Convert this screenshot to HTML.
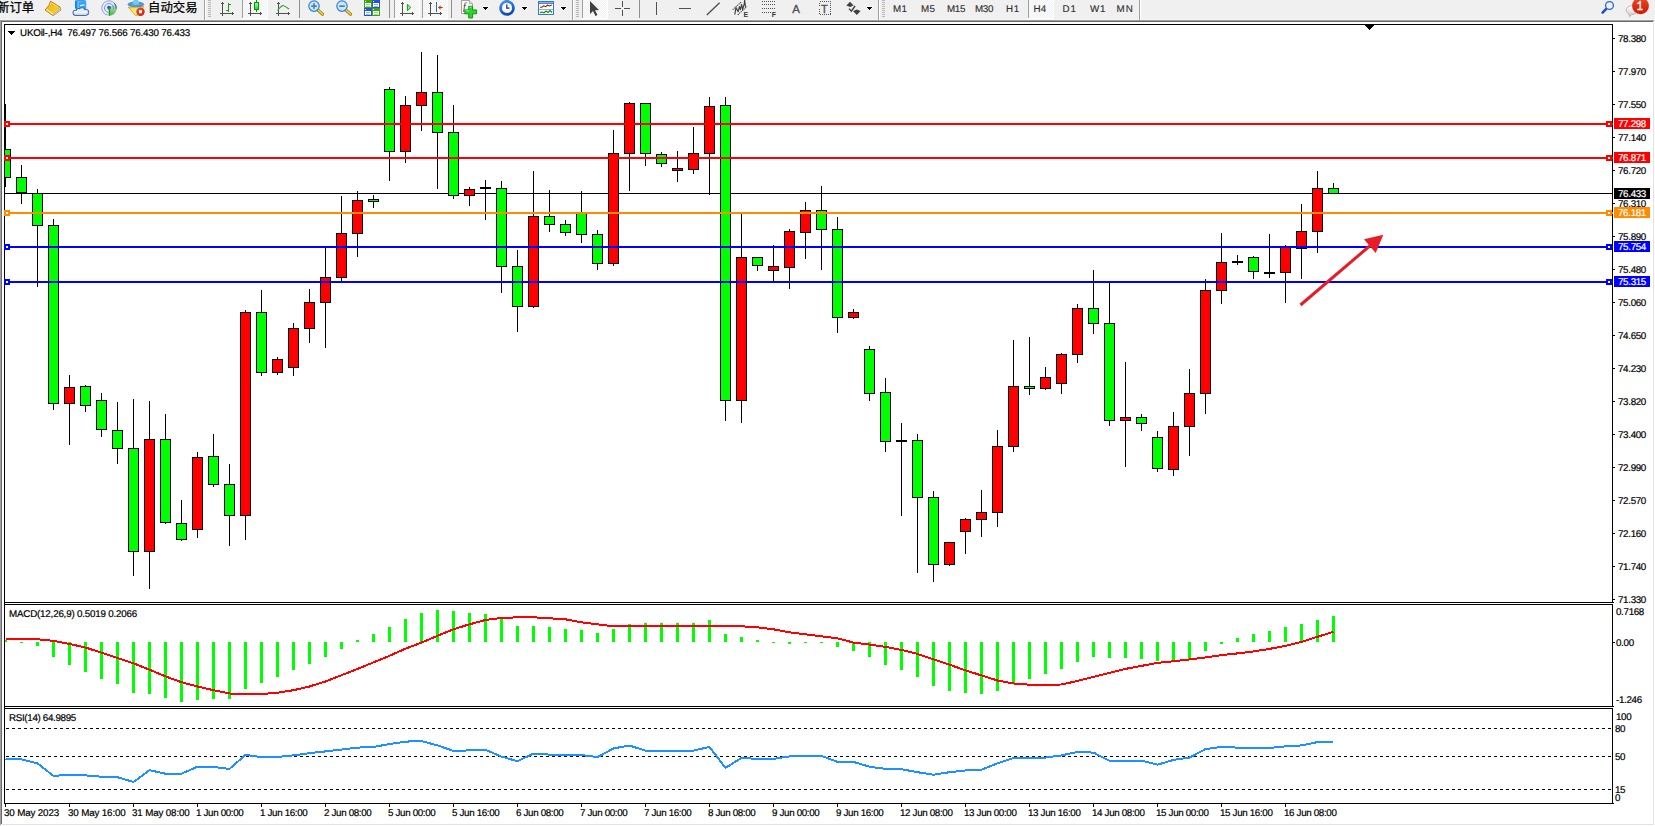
<!DOCTYPE html>
<html><head><meta charset="utf-8"><title>UKOil H4</title>
<style>
html,body{margin:0;padding:0;background:#fff;}
body{width:1655px;height:826px;position:relative;overflow:hidden;font-family:"Liberation Sans","Noto Sans CJK SC",sans-serif;}
#tb{position:absolute;left:0;top:0;width:1655px;height:20px;background:#f0f0f0;overflow:hidden;}
#chart{position:absolute;left:0;top:0;}
.ax{position:absolute;text-rendering:geometricPrecision;-webkit-text-stroke:0.2px #000;font-size:9.8px;line-height:12px;height:12px;color:#000;white-space:nowrap;letter-spacing:-0.33px;}
.tl{letter-spacing:-0.15px;}
.tj{letter-spacing:-0.34px;}
.lb{letter-spacing:-0.2px;}
.pb{position:absolute;text-rendering:geometricPrecision;-webkit-text-stroke:0.2px #fff;left:1614px;width:36px;height:11px;color:#fff;font-size:9.8px;line-height:13px;white-space:nowrap;box-sizing:border-box;padding-left:4px;letter-spacing:-0.33px;}
</style></head>
<body>
<svg id="chart" width="1655" height="826" viewBox="0 0 1655 826" shape-rendering="crispEdges">
<rect x="0" y="19" width="1655" height="1" fill="#f5f5f5"/>
<rect x="0" y="20" width="1654" height="1" fill="#a0a0a0"/><rect x="1654" y="20" width="1" height="2" fill="#f0f0f0"/>
<rect x="0" y="21" width="1653" height="1" fill="#696969"/>
<rect x="0" y="20" width="1" height="805" fill="#a0a0a0"/>
<rect x="1" y="21" width="1" height="803" fill="#696969"/>
<rect x="1653" y="21" width="1" height="804" fill="#e3e3e3"/>
<rect x="2" y="824" width="1652" height="1" fill="#e3e3e3"/>
<rect x="4" y="24" width="1609" height="1" fill="#000"/><rect x="4" y="24" width="1" height="780" fill="#000"/><rect x="1612" y="24" width="1" height="780" fill="#000"/><rect x="4" y="803" width="1610" height="1" fill="#000"/><rect x="4" y="602" width="1610" height="1" fill="#000"/><rect x="4" y="604" width="1609" height="1" fill="#000"/><rect x="4" y="706" width="1610" height="1" fill="#000"/><rect x="4" y="708" width="1609" height="1" fill="#000"/><rect x="5" y="603" width="1611" height="1" fill="#fff"/><rect x="5" y="707" width="1611" height="1" fill="#fff"/>
<rect x="5" y="193" width="1607" height="1" fill="#000"/>
<rect x="5" y="104" width="1" height="83" fill="#000"/><rect x="5" y="149" width="6" height="29" fill="#000"/><rect x="5" y="150" width="5" height="27" fill="#00ff00"/><rect x="21" y="165" width="1" height="39" fill="#000"/><rect x="16" y="177" width="11" height="16" fill="#000"/><rect x="17" y="178" width="9" height="14" fill="#00ff00"/><rect x="37" y="189" width="1" height="98" fill="#000"/><rect x="32" y="193" width="11" height="33" fill="#000"/><rect x="33" y="194" width="9" height="31" fill="#00ff00"/><rect x="53" y="219" width="1" height="191" fill="#000"/><rect x="48" y="225" width="11" height="179" fill="#000"/><rect x="49" y="226" width="9" height="177" fill="#00ff00"/><rect x="69" y="375" width="1" height="70" fill="#000"/><rect x="64" y="387" width="11" height="17" fill="#000"/><rect x="65" y="388" width="9" height="15" fill="#ff0000"/><rect x="85" y="385" width="1" height="27" fill="#000"/><rect x="80" y="386" width="11" height="20" fill="#000"/><rect x="81" y="387" width="9" height="18" fill="#00ff00"/><rect x="101" y="393" width="1" height="44" fill="#000"/><rect x="96" y="400" width="11" height="30" fill="#000"/><rect x="97" y="401" width="9" height="28" fill="#00ff00"/><rect x="117" y="402" width="1" height="62" fill="#000"/><rect x="112" y="430" width="11" height="19" fill="#000"/><rect x="113" y="431" width="9" height="17" fill="#00ff00"/><rect x="133" y="399" width="1" height="177" fill="#000"/><rect x="128" y="448" width="11" height="104" fill="#000"/><rect x="129" y="449" width="9" height="102" fill="#00ff00"/><rect x="149" y="401" width="1" height="188" fill="#000"/><rect x="144" y="439" width="11" height="113" fill="#000"/><rect x="145" y="440" width="9" height="111" fill="#ff0000"/><rect x="165" y="414" width="1" height="110" fill="#000"/><rect x="160" y="439" width="11" height="84" fill="#000"/><rect x="161" y="440" width="9" height="82" fill="#00ff00"/><rect x="181" y="500" width="1" height="41" fill="#000"/><rect x="176" y="523" width="11" height="17" fill="#000"/><rect x="177" y="524" width="9" height="15" fill="#00ff00"/><rect x="197" y="452" width="1" height="86" fill="#000"/><rect x="192" y="457" width="11" height="73" fill="#000"/><rect x="193" y="458" width="9" height="71" fill="#ff0000"/><rect x="213" y="434" width="1" height="53" fill="#000"/><rect x="208" y="456" width="11" height="29" fill="#000"/><rect x="209" y="457" width="9" height="27" fill="#00ff00"/><rect x="229" y="464" width="1" height="82" fill="#000"/><rect x="224" y="484" width="11" height="32" fill="#000"/><rect x="225" y="485" width="9" height="30" fill="#00ff00"/><rect x="245" y="310" width="1" height="230" fill="#000"/><rect x="240" y="312" width="11" height="204" fill="#000"/><rect x="241" y="313" width="9" height="202" fill="#ff0000"/><rect x="261" y="290" width="1" height="86" fill="#000"/><rect x="256" y="312" width="11" height="61" fill="#000"/><rect x="257" y="313" width="9" height="59" fill="#00ff00"/><rect x="277" y="357" width="1" height="18" fill="#000"/><rect x="272" y="359" width="11" height="14" fill="#000"/><rect x="273" y="360" width="9" height="12" fill="#ff0000"/><rect x="293" y="323" width="1" height="53" fill="#000"/><rect x="288" y="328" width="11" height="40" fill="#000"/><rect x="289" y="329" width="9" height="38" fill="#ff0000"/><rect x="309" y="289" width="1" height="54" fill="#000"/><rect x="304" y="302" width="11" height="27" fill="#000"/><rect x="305" y="303" width="9" height="25" fill="#ff0000"/><rect x="325" y="247" width="1" height="101" fill="#000"/><rect x="320" y="277" width="11" height="26" fill="#000"/><rect x="321" y="278" width="9" height="24" fill="#ff0000"/><rect x="341" y="196" width="1" height="85" fill="#000"/><rect x="336" y="233" width="11" height="45" fill="#000"/><rect x="337" y="234" width="9" height="43" fill="#ff0000"/><rect x="357" y="191" width="1" height="66" fill="#000"/><rect x="352" y="200" width="11" height="34" fill="#000"/><rect x="353" y="201" width="9" height="32" fill="#ff0000"/><rect x="373" y="195" width="1" height="13" fill="#000"/><rect x="368" y="199" width="11" height="3" fill="#000"/><rect x="369" y="200" width="9" height="1" fill="#00ff00"/><rect x="389" y="87" width="1" height="94" fill="#000"/><rect x="384" y="89" width="11" height="63" fill="#000"/><rect x="385" y="90" width="9" height="61" fill="#00ff00"/><rect x="405" y="96" width="1" height="67" fill="#000"/><rect x="400" y="105" width="11" height="47" fill="#000"/><rect x="401" y="106" width="9" height="45" fill="#ff0000"/><rect x="421" y="52" width="1" height="79" fill="#000"/><rect x="416" y="92" width="11" height="14" fill="#000"/><rect x="417" y="93" width="9" height="12" fill="#ff0000"/><rect x="437" y="55" width="1" height="134" fill="#000"/><rect x="432" y="92" width="11" height="41" fill="#000"/><rect x="433" y="93" width="9" height="39" fill="#00ff00"/><rect x="453" y="105" width="1" height="94" fill="#000"/><rect x="448" y="132" width="11" height="64" fill="#000"/><rect x="449" y="133" width="9" height="62" fill="#00ff00"/><rect x="469" y="187" width="1" height="19" fill="#000"/><rect x="464" y="189" width="11" height="7" fill="#000"/><rect x="465" y="190" width="9" height="5" fill="#ff0000"/><rect x="485" y="180" width="1" height="40" fill="#000"/><rect x="480" y="187" width="11" height="2" fill="#000"/><rect x="501" y="181" width="1" height="112" fill="#000"/><rect x="496" y="188" width="11" height="79" fill="#000"/><rect x="497" y="189" width="9" height="77" fill="#00ff00"/><rect x="517" y="250" width="1" height="82" fill="#000"/><rect x="512" y="266" width="11" height="41" fill="#000"/><rect x="513" y="267" width="9" height="39" fill="#00ff00"/><rect x="533" y="171" width="1" height="137" fill="#000"/><rect x="528" y="216" width="11" height="91" fill="#000"/><rect x="529" y="217" width="9" height="89" fill="#ff0000"/><rect x="549" y="190" width="1" height="42" fill="#000"/><rect x="544" y="216" width="11" height="9" fill="#000"/><rect x="545" y="217" width="9" height="7" fill="#00ff00"/><rect x="565" y="220" width="1" height="16" fill="#000"/><rect x="560" y="224" width="11" height="9" fill="#000"/><rect x="561" y="225" width="9" height="7" fill="#00ff00"/><rect x="581" y="191" width="1" height="52" fill="#000"/><rect x="576" y="213" width="11" height="22" fill="#000"/><rect x="577" y="214" width="9" height="20" fill="#00ff00"/><rect x="597" y="230" width="1" height="40" fill="#000"/><rect x="592" y="234" width="11" height="30" fill="#000"/><rect x="593" y="235" width="9" height="28" fill="#00ff00"/><rect x="613" y="130" width="1" height="136" fill="#000"/><rect x="608" y="153" width="11" height="111" fill="#000"/><rect x="609" y="154" width="9" height="109" fill="#ff0000"/><rect x="629" y="102" width="1" height="89" fill="#000"/><rect x="624" y="103" width="11" height="51" fill="#000"/><rect x="625" y="104" width="9" height="49" fill="#ff0000"/><rect x="645" y="103" width="1" height="63" fill="#000"/><rect x="640" y="103" width="11" height="51" fill="#000"/><rect x="641" y="104" width="9" height="49" fill="#00ff00"/><rect x="661" y="152" width="1" height="15" fill="#000"/><rect x="656" y="154" width="11" height="10" fill="#000"/><rect x="657" y="155" width="9" height="8" fill="#00ff00"/><rect x="677" y="151" width="1" height="31" fill="#000"/><rect x="672" y="168" width="11" height="3" fill="#000"/><rect x="673" y="169" width="9" height="1" fill="#ff0000"/><rect x="693" y="127" width="1" height="47" fill="#000"/><rect x="688" y="153" width="11" height="17" fill="#000"/><rect x="689" y="154" width="9" height="15" fill="#ff0000"/><rect x="709" y="97" width="1" height="98" fill="#000"/><rect x="704" y="106" width="11" height="48" fill="#000"/><rect x="705" y="107" width="9" height="46" fill="#ff0000"/><rect x="725" y="97" width="1" height="324" fill="#000"/><rect x="720" y="105" width="11" height="296" fill="#000"/><rect x="721" y="106" width="9" height="294" fill="#00ff00"/><rect x="741" y="214" width="1" height="209" fill="#000"/><rect x="736" y="257" width="11" height="144" fill="#000"/><rect x="737" y="258" width="9" height="142" fill="#ff0000"/><rect x="757" y="257" width="1" height="14" fill="#000"/><rect x="752" y="257" width="11" height="9" fill="#000"/><rect x="753" y="258" width="9" height="7" fill="#00ff00"/><rect x="773" y="245" width="1" height="37" fill="#000"/><rect x="768" y="266" width="11" height="5" fill="#000"/><rect x="769" y="267" width="9" height="3" fill="#ff0000"/><rect x="789" y="229" width="1" height="60" fill="#000"/><rect x="784" y="231" width="11" height="37" fill="#000"/><rect x="785" y="232" width="9" height="35" fill="#ff0000"/><rect x="805" y="202" width="1" height="57" fill="#000"/><rect x="800" y="210" width="11" height="23" fill="#000"/><rect x="801" y="211" width="9" height="21" fill="#ff0000"/><rect x="821" y="186" width="1" height="84" fill="#000"/><rect x="816" y="210" width="11" height="20" fill="#000"/><rect x="817" y="211" width="9" height="18" fill="#00ff00"/><rect x="837" y="217" width="1" height="116" fill="#000"/><rect x="832" y="229" width="11" height="89" fill="#000"/><rect x="833" y="230" width="9" height="87" fill="#00ff00"/><rect x="853" y="309" width="1" height="10" fill="#000"/><rect x="848" y="312" width="11" height="6" fill="#000"/><rect x="849" y="313" width="9" height="4" fill="#ff0000"/><rect x="869" y="346" width="1" height="55" fill="#000"/><rect x="864" y="349" width="11" height="45" fill="#000"/><rect x="865" y="350" width="9" height="43" fill="#00ff00"/><rect x="885" y="378" width="1" height="74" fill="#000"/><rect x="880" y="392" width="11" height="50" fill="#000"/><rect x="881" y="393" width="9" height="48" fill="#00ff00"/><rect x="901" y="423" width="1" height="93" fill="#000"/><rect x="896" y="440" width="11" height="2" fill="#000"/><rect x="917" y="434" width="1" height="139" fill="#000"/><rect x="912" y="440" width="11" height="58" fill="#000"/><rect x="913" y="441" width="9" height="56" fill="#00ff00"/><rect x="933" y="491" width="1" height="91" fill="#000"/><rect x="928" y="497" width="11" height="68" fill="#000"/><rect x="929" y="498" width="9" height="66" fill="#00ff00"/><rect x="949" y="542" width="1" height="24" fill="#000"/><rect x="944" y="542" width="11" height="23" fill="#000"/><rect x="945" y="543" width="9" height="21" fill="#ff0000"/><rect x="965" y="518" width="1" height="36" fill="#000"/><rect x="960" y="519" width="11" height="13" fill="#000"/><rect x="961" y="520" width="9" height="11" fill="#ff0000"/><rect x="981" y="490" width="1" height="47" fill="#000"/><rect x="976" y="512" width="11" height="8" fill="#000"/><rect x="977" y="513" width="9" height="6" fill="#ff0000"/><rect x="997" y="430" width="1" height="97" fill="#000"/><rect x="992" y="446" width="11" height="67" fill="#000"/><rect x="993" y="447" width="9" height="65" fill="#ff0000"/><rect x="1013" y="340" width="1" height="112" fill="#000"/><rect x="1008" y="386" width="11" height="61" fill="#000"/><rect x="1009" y="387" width="9" height="59" fill="#ff0000"/><rect x="1029" y="337" width="1" height="58" fill="#000"/><rect x="1024" y="386" width="11" height="3" fill="#000"/><rect x="1025" y="387" width="9" height="1" fill="#00ff00"/><rect x="1045" y="367" width="1" height="23" fill="#000"/><rect x="1040" y="377" width="11" height="12" fill="#000"/><rect x="1041" y="378" width="9" height="10" fill="#ff0000"/><rect x="1061" y="353" width="1" height="41" fill="#000"/><rect x="1056" y="354" width="11" height="30" fill="#000"/><rect x="1057" y="355" width="9" height="28" fill="#ff0000"/><rect x="1077" y="304" width="1" height="59" fill="#000"/><rect x="1072" y="308" width="11" height="47" fill="#000"/><rect x="1073" y="309" width="9" height="45" fill="#ff0000"/><rect x="1093" y="270" width="1" height="64" fill="#000"/><rect x="1088" y="308" width="11" height="16" fill="#000"/><rect x="1089" y="309" width="9" height="14" fill="#00ff00"/><rect x="1109" y="282" width="1" height="144" fill="#000"/><rect x="1104" y="323" width="11" height="98" fill="#000"/><rect x="1105" y="324" width="9" height="96" fill="#00ff00"/><rect x="1125" y="362" width="1" height="105" fill="#000"/><rect x="1120" y="417" width="11" height="4" fill="#000"/><rect x="1121" y="418" width="9" height="2" fill="#ff0000"/><rect x="1141" y="414" width="1" height="17" fill="#000"/><rect x="1136" y="417" width="11" height="7" fill="#000"/><rect x="1137" y="418" width="9" height="5" fill="#00ff00"/><rect x="1157" y="431" width="1" height="41" fill="#000"/><rect x="1152" y="437" width="11" height="32" fill="#000"/><rect x="1153" y="438" width="9" height="30" fill="#00ff00"/><rect x="1173" y="412" width="1" height="64" fill="#000"/><rect x="1168" y="426" width="11" height="44" fill="#000"/><rect x="1169" y="427" width="9" height="42" fill="#ff0000"/><rect x="1189" y="369" width="1" height="87" fill="#000"/><rect x="1184" y="393" width="11" height="34" fill="#000"/><rect x="1185" y="394" width="9" height="32" fill="#ff0000"/><rect x="1205" y="279" width="1" height="135" fill="#000"/><rect x="1200" y="290" width="11" height="104" fill="#000"/><rect x="1201" y="291" width="9" height="102" fill="#ff0000"/><rect x="1221" y="233" width="1" height="71" fill="#000"/><rect x="1216" y="262" width="11" height="29" fill="#000"/><rect x="1217" y="263" width="9" height="27" fill="#ff0000"/><rect x="1237" y="255" width="1" height="10" fill="#000"/><rect x="1232" y="261" width="11" height="2" fill="#000"/><rect x="1253" y="256" width="1" height="23" fill="#000"/><rect x="1248" y="257" width="11" height="15" fill="#000"/><rect x="1249" y="258" width="9" height="13" fill="#00ff00"/><rect x="1269" y="234" width="1" height="44" fill="#000"/><rect x="1264" y="272" width="11" height="2" fill="#000"/><rect x="1285" y="245" width="1" height="58" fill="#000"/><rect x="1280" y="247" width="11" height="26" fill="#000"/><rect x="1281" y="248" width="9" height="24" fill="#ff0000"/><rect x="1301" y="204" width="1" height="75" fill="#000"/><rect x="1296" y="231" width="11" height="18" fill="#000"/><rect x="1297" y="232" width="9" height="16" fill="#ff0000"/><rect x="1317" y="171" width="1" height="82" fill="#000"/><rect x="1312" y="188" width="11" height="44" fill="#000"/><rect x="1313" y="189" width="9" height="42" fill="#ff0000"/><rect x="1333" y="183" width="1" height="11" fill="#000"/><rect x="1328" y="188" width="11" height="6" fill="#000"/><rect x="1329" y="189" width="9" height="4" fill="#00ff00"/>
<rect x="5" y="123" width="1607" height="2" fill="#ff0000"/><rect x="1612" y="123" width="1" height="2" fill="#ff0000"/><rect x="4" y="121" width="6" height="6" fill="#ff0000"/><rect x="6" y="123" width="2" height="2" fill="#fff"/><rect x="1606" y="121" width="6" height="6" fill="#ff0000"/><rect x="1608" y="123" width="2" height="2" fill="#fff"/><rect x="5" y="157" width="1607" height="2" fill="#ff0000"/><rect x="1612" y="157" width="1" height="2" fill="#ff0000"/><rect x="4" y="155" width="6" height="6" fill="#ff0000"/><rect x="6" y="157" width="2" height="2" fill="#fff"/><rect x="1606" y="155" width="6" height="6" fill="#ff0000"/><rect x="1608" y="157" width="2" height="2" fill="#fff"/><rect x="5" y="212" width="1607" height="2" fill="#ff8c00"/><rect x="1612" y="212" width="1" height="2" fill="#ff8c00"/><rect x="4" y="210" width="6" height="6" fill="#ff8c00"/><rect x="6" y="212" width="2" height="2" fill="#fff"/><rect x="1606" y="210" width="6" height="6" fill="#ff8c00"/><rect x="1608" y="212" width="2" height="2" fill="#fff"/><rect x="5" y="246" width="1607" height="2" fill="#0000ff"/><rect x="1612" y="246" width="1" height="2" fill="#0000ff"/><rect x="4" y="244" width="6" height="6" fill="#0000ff"/><rect x="6" y="246" width="2" height="2" fill="#fff"/><rect x="1606" y="244" width="6" height="6" fill="#0000ff"/><rect x="1608" y="246" width="2" height="2" fill="#fff"/><rect x="5" y="281" width="1607" height="2" fill="#0000ff"/><rect x="1612" y="281" width="1" height="2" fill="#0000ff"/><rect x="4" y="279" width="6" height="6" fill="#0000ff"/><rect x="6" y="281" width="2" height="2" fill="#fff"/><rect x="1606" y="279" width="6" height="6" fill="#0000ff"/><rect x="1608" y="281" width="2" height="2" fill="#fff"/>
<g shape-rendering="auto"><line x1="1300.5" y1="305" x2="1372" y2="244" stroke="#e81c26" stroke-width="3"/><polygon points="1383.3,234.8 1364,239.3 1375.7,253" fill="#e81c26"/></g>
<rect x="5" y="640" width="2" height="2" fill="#00ff00"/><rect x="20" y="642" width="3" height="1" fill="#00ff00"/><rect x="36" y="642" width="3" height="4" fill="#00ff00"/><rect x="52" y="642" width="3" height="15" fill="#00ff00"/><rect x="68" y="642" width="3" height="23" fill="#00ff00"/><rect x="84" y="642" width="3" height="30" fill="#00ff00"/><rect x="100" y="642" width="3" height="37" fill="#00ff00"/><rect x="116" y="642" width="3" height="42" fill="#00ff00"/><rect x="132" y="642" width="3" height="51" fill="#00ff00"/><rect x="148" y="642" width="3" height="52" fill="#00ff00"/><rect x="164" y="642" width="3" height="56" fill="#00ff00"/><rect x="180" y="642" width="3" height="60" fill="#00ff00"/><rect x="196" y="642" width="3" height="58" fill="#00ff00"/><rect x="212" y="642" width="3" height="57" fill="#00ff00"/><rect x="228" y="642" width="3" height="57" fill="#00ff00"/><rect x="244" y="642" width="3" height="47" fill="#00ff00"/><rect x="260" y="642" width="3" height="41" fill="#00ff00"/><rect x="276" y="642" width="3" height="35" fill="#00ff00"/><rect x="292" y="642" width="3" height="28" fill="#00ff00"/><rect x="308" y="642" width="3" height="22" fill="#00ff00"/><rect x="324" y="642" width="3" height="15" fill="#00ff00"/><rect x="340" y="642" width="3" height="7" fill="#00ff00"/><rect x="356" y="640" width="3" height="2" fill="#00ff00"/><rect x="372" y="634" width="3" height="8" fill="#00ff00"/><rect x="388" y="627" width="3" height="15" fill="#00ff00"/><rect x="404" y="619" width="3" height="23" fill="#00ff00"/><rect x="420" y="613" width="3" height="29" fill="#00ff00"/><rect x="436" y="610" width="3" height="32" fill="#00ff00"/><rect x="452" y="611" width="3" height="31" fill="#00ff00"/><rect x="468" y="613" width="3" height="29" fill="#00ff00"/><rect x="484" y="614" width="3" height="28" fill="#00ff00"/><rect x="500" y="618" width="3" height="24" fill="#00ff00"/><rect x="516" y="626" width="3" height="16" fill="#00ff00"/><rect x="532" y="626" width="3" height="16" fill="#00ff00"/><rect x="548" y="627" width="3" height="15" fill="#00ff00"/><rect x="564" y="629" width="3" height="13" fill="#00ff00"/><rect x="580" y="630" width="3" height="12" fill="#00ff00"/><rect x="596" y="633" width="3" height="9" fill="#00ff00"/><rect x="612" y="629" width="3" height="13" fill="#00ff00"/><rect x="628" y="624" width="3" height="18" fill="#00ff00"/><rect x="644" y="623" width="3" height="19" fill="#00ff00"/><rect x="660" y="623" width="3" height="19" fill="#00ff00"/><rect x="676" y="623" width="3" height="19" fill="#00ff00"/><rect x="692" y="623" width="3" height="19" fill="#00ff00"/><rect x="708" y="620" width="3" height="22" fill="#00ff00"/><rect x="724" y="634" width="3" height="8" fill="#00ff00"/><rect x="740" y="637" width="3" height="5" fill="#00ff00"/><rect x="756" y="640" width="3" height="2" fill="#00ff00"/><rect x="772" y="642" width="3" height="1" fill="#00ff00"/><rect x="788" y="642" width="3" height="2" fill="#00ff00"/><rect x="804" y="642" width="3" height="1" fill="#00ff00"/><rect x="820" y="642" width="3" height="1" fill="#00ff00"/><rect x="836" y="642" width="3" height="5" fill="#00ff00"/><rect x="852" y="642" width="3" height="9" fill="#00ff00"/><rect x="868" y="642" width="3" height="15" fill="#00ff00"/><rect x="884" y="642" width="3" height="23" fill="#00ff00"/><rect x="900" y="642" width="3" height="28" fill="#00ff00"/><rect x="916" y="642" width="3" height="35" fill="#00ff00"/><rect x="932" y="642" width="3" height="44" fill="#00ff00"/><rect x="948" y="642" width="3" height="49" fill="#00ff00"/><rect x="964" y="642" width="3" height="51" fill="#00ff00"/><rect x="980" y="642" width="3" height="52" fill="#00ff00"/><rect x="996" y="642" width="3" height="49" fill="#00ff00"/><rect x="1012" y="642" width="3" height="42" fill="#00ff00"/><rect x="1028" y="642" width="3" height="37" fill="#00ff00"/><rect x="1044" y="642" width="3" height="32" fill="#00ff00"/><rect x="1060" y="642" width="3" height="27" fill="#00ff00"/><rect x="1076" y="642" width="3" height="20" fill="#00ff00"/><rect x="1092" y="642" width="3" height="15" fill="#00ff00"/><rect x="1108" y="642" width="3" height="16" fill="#00ff00"/><rect x="1124" y="642" width="3" height="16" fill="#00ff00"/><rect x="1140" y="642" width="3" height="17" fill="#00ff00"/><rect x="1156" y="642" width="3" height="19" fill="#00ff00"/><rect x="1172" y="642" width="3" height="19" fill="#00ff00"/><rect x="1188" y="642" width="3" height="17" fill="#00ff00"/><rect x="1204" y="642" width="3" height="9" fill="#00ff00"/><rect x="1220" y="642" width="3" height="2" fill="#00ff00"/><rect x="1236" y="638" width="3" height="4" fill="#00ff00"/><rect x="1252" y="634" width="3" height="8" fill="#00ff00"/><rect x="1268" y="631" width="3" height="11" fill="#00ff00"/><rect x="1284" y="627" width="3" height="15" fill="#00ff00"/><rect x="1300" y="624" width="3" height="18" fill="#00ff00"/><rect x="1316" y="620" width="3" height="22" fill="#00ff00"/><rect x="1332" y="616" width="3" height="26" fill="#00ff00"/><polyline points="5.5,639.3 21.5,639.3 37.5,639.3 53.5,640.9 69.5,643.9 85.5,647.6 101.5,652.6 117.5,658.1 133.5,663.2 149.5,669.7 165.5,676.4 181.5,682.2 197.5,686.5 213.5,690.2 229.5,693.5 245.5,694 261.5,694 277.5,692.7 293.5,690.2 309.5,686.5 325.5,681.5 341.5,675.2 357.5,668.9 373.5,662.4 389.5,655.8 405.5,648.7 421.5,642.6 437.5,635.8 453.5,629.3 469.5,624.3 485.5,620 501.5,618 517.5,617.3 533.5,617.3 549.5,618.3 565.5,619.3 581.5,622.3 597.5,624.3 613.5,626.3 629.5,626.3 645.5,626.3 661.5,626.3 677.5,626.3 693.5,625.8 709.5,625.8 725.5,625.8 741.5,626.3 757.5,627.3 773.5,629.3 789.5,632.3 805.5,634.3 821.5,636.3 837.5,638.3 853.5,642.6 869.5,644.6 885.5,646.9 901.5,649.9 917.5,653.9 933.5,659.4 949.5,664.7 965.5,670.4 981.5,675.4 997.5,680.5 1013.5,683.5 1029.5,684.7 1045.5,684.7 1061.5,684.5 1077.5,681 1093.5,676.9 1109.5,672.9 1125.5,668.9 1141.5,665.9 1157.5,662.9 1173.5,661.2 1189.5,659.4 1205.5,657.4 1221.5,655.1 1237.5,653.4 1253.5,651.4 1269.5,648.9 1285.5,645.9 1301.5,641.9 1317.5,636.8 1333.5,631.8" fill="none" stroke="#ff0000" stroke-width="2" stroke-linejoin="round"/>
<line x1="6" y1="728.5" x2="1612" y2="728.5" stroke="#000" stroke-width="1" stroke-dasharray="3,3"/><line x1="6" y1="756.5" x2="1612" y2="756.5" stroke="#000" stroke-width="1" stroke-dasharray="3,3"/><line x1="6" y1="789.5" x2="1612" y2="789.5" stroke="#000" stroke-width="1" stroke-dasharray="3,3"/><polyline points="5.5,758.9 21.5,759.4 37.5,763.4 53.5,775.9 69.5,774.7 85.5,775.4 101.5,776.7 117.5,777.2 133.5,782 149.5,770.2 165.5,773.7 181.5,773.7 197.5,766.7 213.5,766.9 229.5,768.9 245.5,754.9 261.5,757.1 277.5,756.9 293.5,755.4 309.5,753.1 325.5,751.4 341.5,749.6 357.5,747.6 373.5,746.9 389.5,744.1 405.5,741.6 421.5,741.1 437.5,745.4 453.5,750.9 469.5,750.4 485.5,749.9 501.5,756.6 517.5,761.2 533.5,753.6 549.5,754.6 565.5,755.1 581.5,755.1 597.5,757.1 613.5,748.4 629.5,745.6 645.5,750.6 661.5,750.9 677.5,750.9 693.5,750.6 709.5,746.9 725.5,767.9 741.5,757.9 757.5,758.9 773.5,758.9 789.5,756.4 805.5,755.9 821.5,755.9 837.5,761.9 853.5,761.9 869.5,766.7 885.5,768.9 901.5,769.2 917.5,772.2 933.5,774.7 949.5,772.2 965.5,770.4 981.5,769.7 997.5,763.4 1013.5,758.1 1029.5,757.9 1045.5,757.6 1061.5,755.4 1077.5,751.9 1093.5,752.6 1109.5,760.7 1125.5,760.7 1141.5,760.7 1157.5,764.7 1173.5,759.9 1189.5,757.6 1205.5,749.1 1221.5,746.9 1237.5,747.6 1253.5,747.9 1269.5,747.9 1285.5,746.4 1301.5,745.4 1317.5,742.1 1333.5,741.9" fill="none" stroke="#1e90ff" stroke-width="2" stroke-linejoin="round"/>
<rect x="1613" y="38" width="2" height="1" fill="#000"/><rect x="1613" y="71" width="2" height="1" fill="#000"/><rect x="1613" y="104" width="2" height="1" fill="#000"/><rect x="1613" y="137" width="2" height="1" fill="#000"/><rect x="1613" y="170" width="2" height="1" fill="#000"/><rect x="1613" y="203" width="2" height="1" fill="#000"/><rect x="1613" y="236" width="2" height="1" fill="#000"/><rect x="1613" y="269" width="2" height="1" fill="#000"/><rect x="1613" y="302" width="2" height="1" fill="#000"/><rect x="1613" y="335" width="2" height="1" fill="#000"/><rect x="1613" y="368" width="2" height="1" fill="#000"/><rect x="1613" y="401" width="2" height="1" fill="#000"/><rect x="1613" y="434" width="2" height="1" fill="#000"/><rect x="1613" y="467" width="2" height="1" fill="#000"/><rect x="1613" y="500" width="2" height="1" fill="#000"/><rect x="1613" y="533" width="2" height="1" fill="#000"/><rect x="1613" y="566" width="2" height="1" fill="#000"/><rect x="1613" y="599" width="2" height="1" fill="#000"/><rect x="1613" y="642" width="2" height="1" fill="#000"/><rect x="5" y="804" width="1" height="3" fill="#000"/><rect x="69" y="804" width="1" height="3" fill="#000"/><rect x="133" y="804" width="1" height="3" fill="#000"/><rect x="197" y="804" width="1" height="3" fill="#000"/><rect x="261" y="804" width="1" height="3" fill="#000"/><rect x="325" y="804" width="1" height="3" fill="#000"/><rect x="389" y="804" width="1" height="3" fill="#000"/><rect x="453" y="804" width="1" height="3" fill="#000"/><rect x="517" y="804" width="1" height="3" fill="#000"/><rect x="581" y="804" width="1" height="3" fill="#000"/><rect x="645" y="804" width="1" height="3" fill="#000"/><rect x="709" y="804" width="1" height="3" fill="#000"/><rect x="773" y="804" width="1" height="3" fill="#000"/><rect x="837" y="804" width="1" height="3" fill="#000"/><rect x="901" y="804" width="1" height="3" fill="#000"/><rect x="965" y="804" width="1" height="3" fill="#000"/><rect x="1029" y="804" width="1" height="3" fill="#000"/><rect x="1093" y="804" width="1" height="3" fill="#000"/><rect x="1157" y="804" width="1" height="3" fill="#000"/><rect x="1221" y="804" width="1" height="3" fill="#000"/><rect x="1285" y="804" width="1" height="3" fill="#000"/>
<rect x="1365" y="25" width="9" height="1" fill="#000"/><rect x="1366" y="26" width="7" height="1" fill="#000"/><rect x="1367" y="27" width="5" height="1" fill="#000"/><rect x="1368" y="28" width="3" height="1" fill="#000"/><rect x="1369" y="29" width="1" height="1" fill="#000"/>
<polygon points="8,31 15,31 11.5,35" fill="#000"/>
</svg>
<style>.cj{position:absolute;-webkit-text-stroke:0.25px #000;top:-1px;font-size:12.4px;line-height:18px;height:18px;color:#000;white-space:nowrap;font-family:"Liberation Sans","Noto Sans CJK SC",sans-serif;}.tf{position:absolute;text-rendering:geometricPrecision;-webkit-text-stroke:0.15px #303030;top:4px;font-size:9.8px;line-height:12px;color:#303030;white-space:nowrap;letter-spacing:0px;}.bdg{position:absolute;left:1635.8px;top:-1px;font-size:13px;line-height:15px;color:#fff;font-family:"Liberation Mono",monospace;font-weight:normal;-webkit-text-stroke:0.45px #fff;transform:scaleX(0.8);transform-origin:50% 50%;}</style><div id="tb"><svg id="tbs" width="1655" height="20" viewBox="0 0 1655 20" style="position:absolute;left:0;top:0" shape-rendering="crispEdges"><rect x="0" y="19" width="1655" height="1" fill="#f6f6f6"/><g shape-rendering="auto"><defs><linearGradient id="gold" x1="0" y1="0" x2="1" y2="0.6"><stop offset="0" stop-color="#f8d850"/><stop offset="0.35" stop-color="#f0bc18"/><stop offset="0.75" stop-color="#f4c828"/><stop offset="1" stop-color="#d09818"/></linearGradient><linearGradient id="blu" x1="0" y1="0" x2="0" y2="1"><stop offset="0" stop-color="#58b8ff"/><stop offset="1" stop-color="#1878e0"/></linearGradient><linearGradient id="cld" x1="0" y1="0" x2="0" y2="1"><stop offset="0" stop-color="#ffffff"/><stop offset="1" stop-color="#c0d0e8"/></linearGradient><radialGradient id="redb" cx="0.4" cy="0.35" r="0.7"><stop offset="0" stop-color="#f05838"/><stop offset="1" stop-color="#d01808"/></radialGradient><linearGradient id="grn" x1="0" y1="0" x2="1" y2="0"><stop offset="0" stop-color="#20c020"/><stop offset="0.5" stop-color="#80ff80"/><stop offset="1" stop-color="#20c020"/></linearGradient><linearGradient id="sgn" x1="0" y1="1" x2="0" y2="0"><stop offset="0" stop-color="#28a428"/><stop offset="1" stop-color="#d4ead4"/></linearGradient><linearGradient id="ylw" x1="0" y1="0" x2="1" y2="1"><stop offset="0" stop-color="#f8d030"/><stop offset="0.6" stop-color="#fff080"/><stop offset="1" stop-color="#f0c020"/></linearGradient><linearGradient id="grn2" x1="0" y1="0" x2="0" y2="1"><stop offset="0" stop-color="#90ff98"/><stop offset="1" stop-color="#18e030"/></linearGradient><pattern id="chk" width="2" height="2" patternUnits="userSpaceOnUse"><rect width="2" height="2" fill="#f0f0f0"/><rect x="0" y="0" width="1" height="1" fill="#ffffff"/><rect x="1" y="1" width="1" height="1" fill="#ffffff"/></pattern></defs><path d="M50.6,1.2 L59.9,7.1 L60.9,10 L53,15.6 L45.1,10 L48.8,5.6 Z" fill="url(#gold)" stroke="#a8700c" stroke-width="0.9" stroke-linejoin="round"/><polygon points="60,7.6 60.8,9.9 53.2,15.3 52.6,13.2" fill="#e6d8a0"/><path d="M60.4,8.8 L52.9,14.3" stroke="#a08030" stroke-width="0.5"/><path d="M46.3,9.4 L53,14.2" stroke="#ffe888" stroke-width="1.3"/><path d="M49.6,5.2 L51,2.6 L58.6,7.4" stroke="#fff0a8" stroke-width="0.8" fill="none" opacity="0.8"/><polygon points="75,0.4 77,0 84.2,0 86.2,0.8 78,1.6" fill="#7088d8"/><polygon points="75,0.4 78,1.6 78,9.5 75,8.5" fill="#0a8cf0"/><polygon points="78,1.6 86.2,0.8 86.2,9 78,9.5" fill="#2ea8ff"/><path d="M78,1.6 V9.5" stroke="#d8f0ff" stroke-width="0.7"/><polygon points="80,5 84.6,4.2 84.6,5.4 80,6.2" fill="#eaf6ff"/><g fill="#4868a8"><circle cx="75.6" cy="12.8" r="3.1"/><circle cx="78.6" cy="10.9" r="2.9"/><circle cx="82" cy="10.6" r="3.4"/><circle cx="85.8" cy="12.3" r="3.4"/><rect x="75" y="12" width="11.5" height="4.1" rx="1.5"/></g><g fill="url(#cld)"><circle cx="75.6" cy="12.8" r="2.1"/><circle cx="78.6" cy="10.9" r="1.9"/><circle cx="82" cy="10.6" r="2.4"/><circle cx="85.8" cy="12.3" r="2.4"/><rect x="75" y="11.5" width="11.5" height="3.6" rx="1.2"/></g><circle cx="109" cy="8" r="7.8" fill="#e4eaf8" opacity="0.55"/><path d="M109,8 L109,15.7 A7.7,7.7 0 0 0 114.6,2.7 Z" fill="url(#sgn)" opacity="0.8"/><g fill="none"><circle cx="109" cy="8" r="7.2" stroke="#6888e0" stroke-width="0.9" opacity="0.75" stroke-dasharray="34 11.3" transform="rotate(100 109 8)"/><circle cx="109" cy="8" r="4.5" stroke="#5878d8" stroke-width="0.9" opacity="0.8" stroke-dasharray="21 7.3" transform="rotate(100 109 8)"/><path d="M114.3,3.1 A7.2,7.2 0 0 1 116.2,8.5" stroke="#205088" stroke-width="1" opacity="0.8"/></g><circle cx="109" cy="7.6" r="1.9" fill="#2858d8"/><path d="M109.4,8 V15.7" stroke="#18a018" stroke-width="1.5"/><polygon points="128.2,7.2 143.8,6.6 140.5,11 137,15.8 134.6,14.6" fill="url(#ylw)" stroke="#c89010" stroke-width="0.7" stroke-linejoin="round"/><ellipse cx="135.9" cy="4.4" rx="7.9" ry="2.4" fill="#48a0d8" stroke="#2880b8" stroke-width="0.7"/><path d="M132.7,4.2 Q133,-0.8 135.9,-1.2 Q138.8,-0.8 139.1,4.2 Q135.9,5.6 132.7,4.2 Z" fill="#78c4f0"/><circle cx="140.5" cy="11.8" r="4.2" fill="url(#redb)"/><rect x="139" y="10.2" width="3" height="3" fill="#fff"/></g><rect x="204" y="0" width="1" height="20" fill="#a0a0a0"/><rect x="205" y="0" width="1" height="20" fill="#ffffff"/><rect x="208" y="0" width="3" height="1" fill="#b8b8b8"/><rect x="208" y="2" width="3" height="1" fill="#b8b8b8"/><rect x="208" y="4" width="3" height="1" fill="#b8b8b8"/><rect x="208" y="6" width="3" height="1" fill="#b8b8b8"/><rect x="208" y="8" width="3" height="1" fill="#b8b8b8"/><rect x="208" y="10" width="3" height="1" fill="#b8b8b8"/><rect x="208" y="12" width="3" height="1" fill="#b8b8b8"/><rect x="208" y="14" width="3" height="1" fill="#b8b8b8"/><rect x="208" y="16" width="3" height="1" fill="#b8b8b8"/><g transform="translate(220,0)" fill="#505050"><rect x="2" y="2" width="1" height="14"/><rect x="0" y="13" width="14" height="1"/><rect x="1" y="3" width="3" height="1"/><rect x="12" y="12" width="1" height="3"/></g><g fill="#10a010"><rect x="228" y="3" width="1" height="9"/><rect x="229" y="4" width="2" height="1"/><rect x="226" y="10" width="2" height="1"/></g><rect x="243" y="0" width="24" height="18" fill="url(#chk)"/><rect x="242" y="0" width="1" height="18" fill="#a0a0a0"/><rect x="267" y="0" width="1" height="19" fill="#ffffff"/><rect x="242" y="18" width="25" height="1" fill="#ffffff"/><g transform="translate(248,0)" fill="#505050"><rect x="2" y="2" width="1" height="14"/><rect x="0" y="13" width="14" height="1"/><rect x="1" y="3" width="3" height="1"/><rect x="12" y="12" width="1" height="3"/></g><rect x="256" y="0" width="1" height="12" fill="#0c940c"/><rect x="254" y="2" width="5" height="8" fill="#0c940c"/><rect x="255" y="3" width="3" height="6" fill="url(#grn2)"/><g transform="translate(276,0)" fill="#505050"><rect x="2" y="2" width="1" height="14"/><rect x="0" y="13" width="14" height="1"/><rect x="1" y="3" width="3" height="1"/><rect x="12" y="12" width="1" height="3"/></g><path d="M277.5,10.5 Q281,6 283,5.5 Q285,6 289,9" fill="none" stroke="#30a030" stroke-width="1.2" shape-rendering="auto"/><rect x="299" y="0" width="1" height="18" fill="#909090"/><g shape-rendering="auto"><line x1="317.8" y1="10" x2="322.6" y2="14.2" stroke="#a88818" stroke-width="3.2" stroke-linecap="round"/><line x1="318" y1="10" x2="322.5" y2="14" stroke="#f0d040" stroke-width="1.6" stroke-linecap="round"/><circle cx="314" cy="6.1" r="5.2" fill="#cfe6f8" stroke="#3080d8" stroke-width="1.2"/><rect x="311.2" y="5.3" width="5.6" height="1.7" fill="#4484b8"/><rect x="313.15" y="3.3" width="1.7" height="5.6" fill="#4484b8"/></g><g shape-rendering="auto"><line x1="345.8" y1="10" x2="350.6" y2="14.2" stroke="#a88818" stroke-width="3.2" stroke-linecap="round"/><line x1="346" y1="10" x2="350.5" y2="14" stroke="#f0d040" stroke-width="1.6" stroke-linecap="round"/><circle cx="342" cy="6.1" r="5.2" fill="#cfe6f8" stroke="#3080d8" stroke-width="1.2"/><rect x="339.2" y="5.3" width="5.6" height="1.7" fill="#4484b8"/></g><g><rect x="364" y="0" width="8" height="8" fill="#3fa412"/><rect x="365" y="3" width="6" height="4" fill="#ffffff"/><rect x="366" y="4" width="4" height="1" fill="#a4d890"/><rect x="366" y="6" width="4" height="1" fill="#a4d890"/><rect x="365" y="1" width="1" height="1" fill="#e8f0ff"/><rect x="372" y="0" width="8" height="8" fill="#2456d4"/><rect x="373" y="3" width="6" height="4" fill="#ffffff"/><rect x="374" y="4" width="4" height="1" fill="#90aef0"/><rect x="374" y="6" width="4" height="1" fill="#90aef0"/><rect x="373" y="1" width="1" height="1" fill="#e8f0ff"/><rect x="364" y="8" width="8" height="8" fill="#2456d4"/><rect x="365" y="11" width="6" height="4" fill="#ffffff"/><rect x="366" y="12" width="4" height="1" fill="#90aef0"/><rect x="366" y="14" width="4" height="1" fill="#90aef0"/><rect x="365" y="9" width="1" height="1" fill="#e8f0ff"/><rect x="372" y="8" width="8" height="8" fill="#3fa412"/><rect x="373" y="11" width="6" height="4" fill="#ffffff"/><rect x="374" y="12" width="4" height="1" fill="#a4d890"/><rect x="374" y="14" width="4" height="1" fill="#a4d890"/><rect x="373" y="9" width="1" height="1" fill="#e8f0ff"/></g><rect x="389" y="0" width="1" height="18" fill="#909090"/><rect x="395" y="0" width="24" height="18" fill="url(#chk)"/><rect x="394" y="0" width="1" height="18" fill="#a0a0a0"/><rect x="419" y="0" width="1" height="19" fill="#ffffff"/><rect x="394" y="18" width="25" height="1" fill="#ffffff"/><g transform="translate(400,0)" fill="#505050"><rect x="2" y="2" width="1" height="14"/><rect x="0" y="13" width="14" height="1"/><rect x="1" y="3" width="3" height="1"/><rect x="12" y="12" width="1" height="3"/></g><polygon points="407.4,4.3 410.8,7.5 407.4,10.7" fill="#8cf08c" stroke="#10a010" stroke-width="1" stroke-linejoin="round" shape-rendering="auto"/><rect x="423" y="0" width="24" height="18" fill="url(#chk)"/><rect x="422" y="0" width="1" height="18" fill="#a0a0a0"/><rect x="447" y="0" width="1" height="19" fill="#ffffff"/><rect x="422" y="18" width="25" height="1" fill="#ffffff"/><g transform="translate(428,0)" fill="#505050"><rect x="2" y="2" width="1" height="14"/><rect x="0" y="13" width="14" height="1"/><rect x="1" y="3" width="3" height="1"/><rect x="12" y="12" width="1" height="3"/></g><rect x="436" y="2" width="1" height="10" fill="#2070a8"/><g shape-rendering="auto"><path d="M442.6,7.5 H439" stroke="#c83000" stroke-width="1.1"/><polygon points="437.9,7.5 440.9,5.2 440.2,7.5 440.9,9.8" fill="#d03000"/></g><rect x="451" y="0" width="1" height="18" fill="#909090"/><g shape-rendering="auto"><path d="M461.5,0.5 H469.3 L472.5,3.7 V13.5 H461.5 Z" fill="#fbfbfb" stroke="#989898" stroke-width="0.9"/><path d="M469.3,0.5 V3.7 H472.5" fill="#e4e4e4" stroke="#989898" stroke-width="0.8"/><text x="463" y="9.6" font-size="10" font-style="italic" font-family="Liberation Serif,serif" fill="#403020">f</text><path d="M468.7,6.3 h3.9 v3.6 h4 v3.9 h-4 v4.2 h-3.9 v-4.2 h-3.9 v-3.9 h3.9 z" fill="#2cd42c" stroke="#0c8c0c" stroke-width="0.9"/><path d="M469.6,7.2 h2 M465.6,10.8 h3.4" stroke="#a0f8a0" stroke-width="0.9"/></g><rect x="482" y="6" width="7" height="1" fill="#fbfbfb"/><rect x="482" y="7" width="7" height="1" fill="#fbfbfb"/><rect x="483" y="8" width="5" height="1" fill="#fbfbfb"/><rect x="484" y="9" width="3" height="1" fill="#fbfbfb"/><rect x="485" y="10" width="1" height="1" fill="#fbfbfb"/><rect x="483" y="7" width="5" height="1" fill="#000"/><rect x="484" y="8" width="3" height="1" fill="#000"/><rect x="485" y="9" width="1" height="1" fill="#000"/><g shape-rendering="auto"><defs><linearGradient id="clk" x1="0" y1="0" x2="0.4" y2="1"><stop offset="0" stop-color="#48a0f0"/><stop offset="1" stop-color="#0c48b0"/></linearGradient></defs><rect x="505.3" y="-1" width="3.4" height="2" fill="#1868d0"/><circle cx="507" cy="7.9" r="7.8" fill="url(#clk)"/><circle cx="507" cy="7.9" r="5.1" fill="#fcfcff"/><g stroke="#a0a8b8" stroke-width="0.7"><path d="M507,3.3 v0.9 M507,11.6 v0.9 M502.4,7.9 h0.9 M510.7,7.9 h0.9 M503.8,4.7 l0.6,0.6 M510.2,4.7 l-0.6,0.6 M503.8,11.1 l0.6,-0.6 M510.2,11.1 l-0.6,-0.6"/></g><path d="M506.8,4.6 V8.2 H509.4" stroke="#282828" stroke-width="1.2" fill="none"/></g><rect x="521" y="6" width="7" height="1" fill="#fbfbfb"/><rect x="521" y="7" width="7" height="1" fill="#fbfbfb"/><rect x="522" y="8" width="5" height="1" fill="#fbfbfb"/><rect x="523" y="9" width="3" height="1" fill="#fbfbfb"/><rect x="524" y="10" width="1" height="1" fill="#fbfbfb"/><rect x="522" y="7" width="5" height="1" fill="#000"/><rect x="523" y="8" width="3" height="1" fill="#000"/><rect x="524" y="9" width="1" height="1" fill="#000"/><g><defs><linearGradient id="tpl" x1="0" y1="0" x2="0" y2="1"><stop offset="0" stop-color="#b0d0f4"/><stop offset="1" stop-color="#3878c8"/></linearGradient></defs><rect x="538" y="1" width="16" height="14" fill="#3878c8"/><rect x="539" y="4" width="14" height="10" fill="#fbfdff"/><rect x="539" y="1.6" width="14" height="2.4" fill="url(#tpl)"/><rect x="539" y="8.6" width="14" height="1" fill="#8cb4e8"/><path d="M540,7.2 h1.8 l1.8,-1.4 l2,0.9 l2,-1.5 l2,0.8 l2.2,-1" stroke="#a42000" stroke-width="1.1" fill="none" shape-rendering="auto"/><path d="M540,12.6 l2,-0.6 l2,0.8 l2,-1.8 l2,1.5 l2,-2 l2.2,2" stroke="#108810" stroke-width="1.1" fill="none" shape-rendering="auto"/></g><rect x="560" y="6" width="7" height="1" fill="#fbfbfb"/><rect x="560" y="7" width="7" height="1" fill="#fbfbfb"/><rect x="561" y="8" width="5" height="1" fill="#fbfbfb"/><rect x="562" y="9" width="3" height="1" fill="#fbfbfb"/><rect x="563" y="10" width="1" height="1" fill="#fbfbfb"/><rect x="561" y="7" width="5" height="1" fill="#000"/><rect x="562" y="8" width="3" height="1" fill="#000"/><rect x="563" y="9" width="1" height="1" fill="#000"/><rect x="572" y="0" width="1" height="20" fill="#a0a0a0"/><rect x="573" y="0" width="1" height="20" fill="#ffffff"/><rect x="576" y="0" width="3" height="1" fill="#b8b8b8"/><rect x="576" y="2" width="3" height="1" fill="#b8b8b8"/><rect x="576" y="4" width="3" height="1" fill="#b8b8b8"/><rect x="576" y="6" width="3" height="1" fill="#b8b8b8"/><rect x="576" y="8" width="3" height="1" fill="#b8b8b8"/><rect x="576" y="10" width="3" height="1" fill="#b8b8b8"/><rect x="576" y="12" width="3" height="1" fill="#b8b8b8"/><rect x="576" y="14" width="3" height="1" fill="#b8b8b8"/><rect x="576" y="16" width="3" height="1" fill="#b8b8b8"/><rect x="583" y="0" width="24" height="18" fill="url(#chk)"/><rect x="582" y="0" width="1" height="18" fill="#a0a0a0"/><rect x="607" y="0" width="1" height="19" fill="#ffffff"/><rect x="582" y="18" width="25" height="1" fill="#ffffff"/><polygon points="590,1 590,14 593,11 595.5,16 597.5,15 595,10.2 599,10" fill="#404040" shape-rendering="auto"/><g fill="#505050"><rect x="622" y="1" width="1" height="6"/><rect x="622" y="10" width="1" height="6"/><rect x="615" y="8" width="6" height="1"/><rect x="624" y="8" width="6" height="1"/></g><rect x="639" y="0" width="1" height="18" fill="#909090"/><rect x="656" y="2" width="1" height="13" fill="#505050"/><rect x="679" y="8" width="12" height="1" fill="#505050"/><line x1="706.8" y1="15" x2="719.6" y2="2.8" stroke="#484848" stroke-width="1.25" shape-rendering="auto"/><g shape-rendering="auto" fill="none"><path d="M732.7,9.7 L741,2.2 M737.8,14.8 L747,6.4" stroke="#404040" stroke-width="1.1" stroke-dasharray="1.2,0.8"/><polyline points="734.8,14.6 735.9,7.6 738.2,11.6 739.4,6.6 740.4,9.6 741.6,4.4 742.6,9.6 744.3,3.6 744.6,0 745.5,6.8" stroke="#404040" stroke-width="1.15" stroke-linejoin="round"/></g><text x="743.6" y="17" font-size="7" font-weight="bold" font-family="Liberation Sans,sans-serif" fill="#383838">E</text><rect x="762" y="1" width="1" height="1" fill="#505050"/><rect x="764" y="1" width="1" height="1" fill="#505050"/><rect x="766" y="1" width="1" height="1" fill="#505050"/><rect x="768" y="1" width="1" height="1" fill="#505050"/><rect x="770" y="1" width="1" height="1" fill="#505050"/><rect x="772" y="1" width="1" height="1" fill="#505050"/><rect x="774" y="1" width="1" height="1" fill="#505050"/><rect x="762" y="4" width="1" height="1" fill="#505050"/><rect x="764" y="4" width="1" height="1" fill="#505050"/><rect x="766" y="4" width="1" height="1" fill="#505050"/><rect x="768" y="4" width="1" height="1" fill="#505050"/><rect x="770" y="4" width="1" height="1" fill="#505050"/><rect x="772" y="4" width="1" height="1" fill="#505050"/><rect x="774" y="4" width="1" height="1" fill="#505050"/><rect x="762" y="8" width="1" height="1" fill="#505050"/><rect x="764" y="8" width="1" height="1" fill="#505050"/><rect x="766" y="8" width="1" height="1" fill="#505050"/><rect x="768" y="8" width="1" height="1" fill="#505050"/><rect x="770" y="8" width="1" height="1" fill="#505050"/><rect x="772" y="8" width="1" height="1" fill="#505050"/><rect x="774" y="8" width="1" height="1" fill="#505050"/><rect x="762" y="12" width="1" height="1" fill="#505050"/><rect x="764" y="12" width="1" height="1" fill="#505050"/><rect x="766" y="12" width="1" height="1" fill="#505050"/><rect x="768" y="12" width="1" height="1" fill="#505050"/><rect x="770" y="12" width="1" height="1" fill="#505050"/><text x="771.8" y="17" font-size="7" font-weight="bold" font-family="Liberation Sans,sans-serif" fill="#383838">F</text><text x="792.3" y="12.6" font-size="11.5" font-family="Liberation Sans,sans-serif" fill="#505050" stroke="#505050" stroke-width="0.3">A</text><rect x="819.5" y="1.5" width="11" height="13" fill="none" stroke="#585858" stroke-width="1" stroke-dasharray="1,1"/><text x="821" y="12.6" font-size="11" font-family="Liberation Sans,sans-serif" fill="#505050" stroke="#505050" stroke-width="0.3">T</text><g shape-rendering="auto" fill="#404040"><polygon points="846.4,5.4 850,1.8 853.6,5.4 850,7"/><path d="M849,8.6 l2.3,2.6 l3.8,-5.2" stroke="#404040" stroke-width="1.4" fill="none"/><polygon points="853,11 856.8,9.4 860.6,11 856.8,15"/></g><rect x="866" y="6" width="7" height="1" fill="#fbfbfb"/><rect x="866" y="7" width="7" height="1" fill="#fbfbfb"/><rect x="867" y="8" width="5" height="1" fill="#fbfbfb"/><rect x="868" y="9" width="3" height="1" fill="#fbfbfb"/><rect x="869" y="10" width="1" height="1" fill="#fbfbfb"/><rect x="867" y="7" width="5" height="1" fill="#000"/><rect x="868" y="8" width="3" height="1" fill="#000"/><rect x="869" y="9" width="1" height="1" fill="#000"/><rect x="878" y="0" width="1" height="20" fill="#a0a0a0"/><rect x="879" y="0" width="1" height="20" fill="#ffffff"/><rect x="882" y="0" width="3" height="1" fill="#b8b8b8"/><rect x="882" y="2" width="3" height="1" fill="#b8b8b8"/><rect x="882" y="4" width="3" height="1" fill="#b8b8b8"/><rect x="882" y="6" width="3" height="1" fill="#b8b8b8"/><rect x="882" y="8" width="3" height="1" fill="#b8b8b8"/><rect x="882" y="10" width="3" height="1" fill="#b8b8b8"/><rect x="882" y="12" width="3" height="1" fill="#b8b8b8"/><rect x="882" y="14" width="3" height="1" fill="#b8b8b8"/><rect x="882" y="16" width="3" height="1" fill="#b8b8b8"/><rect x="1029" y="0" width="24" height="18" fill="url(#chk)"/><rect x="1028" y="0" width="1" height="18" fill="#a0a0a0"/><rect x="1053" y="0" width="1" height="19" fill="#ffffff"/><rect x="1028" y="18" width="25" height="1" fill="#ffffff"/><rect x="1139" y="0" width="1" height="20" fill="#a0a0a0"/><rect x="1140" y="0" width="1" height="20" fill="#ffffff"/><g shape-rendering="auto"><line x1="1602.6" y1="12.6" x2="1606" y2="9.2" stroke="#1c50c0" stroke-width="2.6" stroke-linecap="round"/><circle cx="1609.5" cy="5.5" r="3.9" fill="#f2f2ff" stroke="#2464d8" stroke-width="1.3"/></g><g shape-rendering="auto"><defs><linearGradient id="cht" x1="0" y1="0" x2="0" y2="1"><stop offset="0" stop-color="#ffffff"/><stop offset="1" stop-color="#d4d4e4"/></linearGradient><linearGradient id="bdg" x1="0" y1="0" x2="0" y2="1"><stop offset="0" stop-color="#e85030"/><stop offset="0.5" stop-color="#e02c10"/><stop offset="1" stop-color="#d41400"/></linearGradient></defs><polygon points="1628.8,12.6 1629.4,16.6 1633.2,13.2" fill="#dcdce8" stroke="#a4a4a4" stroke-width="0.8"/><ellipse cx="1631.7" cy="10.1" rx="5.6" ry="4.4" fill="url(#cht)" stroke="#b0b0b0" stroke-width="0.9"/><polygon points="1629.6,12.9 1629.9,15.2 1632.2,13.3" fill="#dcdce8"/><circle cx="1640.5" cy="5.9" r="8.4" fill="url(#bdg)"/></g></svg><div class="cj" style="left:-3px">新订单</div><div class="cj" style="left:148px">自动交易</div><div class="tf" style="left:893px;letter-spacing:0.3px">M1</div><div class="tf" style="left:921px;letter-spacing:0.3px">M5</div><div class="tf" style="left:947px;letter-spacing:-0.3px">M15</div><div class="tf" style="left:975px;letter-spacing:-0.3px">M30</div><div class="tf" style="left:1006px;letter-spacing:0.8px">H1</div><div class="tf" style="left:1033.6px;letter-spacing:0.2px">H4</div><div class="tf" style="left:1062.5px;letter-spacing:1.0px">D1</div><div class="tf" style="left:1090px;letter-spacing:0.7px">W1</div><div class="tf" style="left:1116.6px;letter-spacing:1.1px">MN</div><div class="bdg">1</div></div>
<div class="ax" style="left:1618px;top:34px;">78.380</div><div class="ax" style="left:1618px;top:67px;">77.970</div><div class="ax" style="left:1618px;top:100px;">77.550</div><div class="ax" style="left:1618px;top:133px;">77.140</div><div class="ax" style="left:1618px;top:166px;">76.720</div><div class="ax" style="left:1618px;top:199px;">76.310</div><div class="ax" style="left:1618px;top:232px;">75.890</div><div class="ax" style="left:1618px;top:265px;">75.480</div><div class="ax" style="left:1618px;top:298px;">75.060</div><div class="ax" style="left:1618px;top:331px;">74.650</div><div class="ax" style="left:1618px;top:364px;">74.230</div><div class="ax" style="left:1618px;top:397px;">73.820</div><div class="ax" style="left:1618px;top:430px;">73.400</div><div class="ax" style="left:1618px;top:463px;">72.990</div><div class="ax" style="left:1618px;top:496px;">72.570</div><div class="ax" style="left:1618px;top:529px;">72.160</div><div class="ax" style="left:1618px;top:562px;">71.740</div><div class="ax" style="left:1618px;top:595px;">71.330</div><div class="ax" style="left:1616px;top:607px;">0.7168</div><div class="ax" style="left:1616px;top:638px;">0.00</div><div class="ax" style="left:1616px;top:695px;">-1.246</div><div class="ax" style="left:1616px;top:712px;">100</div><div class="ax" style="left:1615px;top:724px;">80</div><div class="ax" style="left:1615px;top:752px;">50</div><div class="ax" style="left:1615px;top:785px;">15</div><div class="ax" style="left:1615px;top:793px;">0</div><div class="ax tl" style="left:4px;top:808px;">30 May 2023</div><div class="ax tl" style="left:68px;top:808px;">30 May 16:00</div><div class="ax tl" style="left:132px;top:808px;">31 May 08:00</div><div class="ax tj" style="left:196px;top:808px;">1 Jun 00:00</div><div class="ax tj" style="left:260px;top:808px;">1 Jun 16:00</div><div class="ax tj" style="left:324px;top:808px;">2 Jun 08:00</div><div class="ax tj" style="left:388px;top:808px;">5 Jun 00:00</div><div class="ax tj" style="left:452px;top:808px;">5 Jun 16:00</div><div class="ax tj" style="left:516px;top:808px;">6 Jun 08:00</div><div class="ax tj" style="left:580px;top:808px;">7 Jun 00:00</div><div class="ax tj" style="left:644px;top:808px;">7 Jun 16:00</div><div class="ax tj" style="left:708px;top:808px;">8 Jun 08:00</div><div class="ax tj" style="left:772px;top:808px;">9 Jun 00:00</div><div class="ax tj" style="left:836px;top:808px;">9 Jun 16:00</div><div class="ax tj" style="left:900px;top:808px;">12 Jun 08:00</div><div class="ax tj" style="left:964px;top:808px;">13 Jun 00:00</div><div class="ax tj" style="left:1028px;top:808px;">13 Jun 16:00</div><div class="ax tj" style="left:1092px;top:808px;">14 Jun 08:00</div><div class="ax tj" style="left:1156px;top:808px;">15 Jun 00:00</div><div class="ax tj" style="left:1220px;top:808px;">15 Jun 16:00</div><div class="ax tj" style="left:1284px;top:808px;">16 Jun 08:00</div><div class="pb" style="top:118px;background:#ff0000">77.298</div><div class="pb" style="top:152px;background:#ff0000">76.871</div><div class="pb" style="top:188px;background:#000000">76.433</div><div class="pb" style="top:207px;background:#ff8c00">76.181</div><div class="pb" style="top:241px;background:#0000ff">75.754</div><div class="pb" style="top:276px;background:#0000ff">75.315</div><div class="ax lb" style="left:20px;top:28px;">UKOil-,H4&nbsp; 76.497 76.566 76.430 76.433</div><div class="ax lb" style="left:9px;top:609px;">MACD(12,26,9) 0.5019 0.2066</div><div class="ax" style="left:9px;top:713px;">RSI(14) 64.9895</div>
</body></html>
